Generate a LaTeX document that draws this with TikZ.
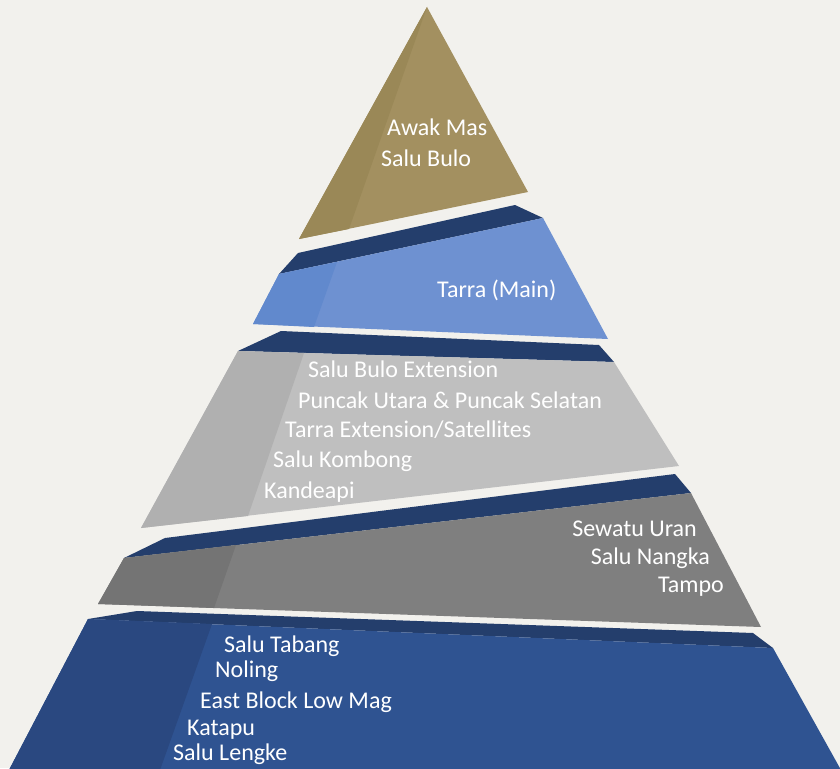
\documentclass[tikz,border=0pt]{standalone}
\usepackage{fontspec}
\setmainfont{Carlito}
\begin{document}
\begin{tikzpicture}[x=1pt,y=-1pt,
  lbl/.style={text=white, inner sep=0pt, font=\fontsize{24}{28}\selectfont},
  lw/.style={lbl, anchor=base west},
  le/.style={lbl, anchor=base east}]
\definecolor{bg}{HTML}{F2F1ED}
\definecolor{gold}{HTML}{A39060}
\definecolor{goldd}{HTML}{9A8857}
\definecolor{navy}{HTML}{243E6C}
\definecolor{lblue}{HTML}{6E91D1}
\definecolor{lblued}{HTML}{6189CD}
\definecolor{lgray}{HTML}{BFBFBF}
\definecolor{lgrayd}{HTML}{B0B0B0}
\definecolor{dgray}{HTML}{7F7F7F}
\definecolor{dgrayd}{HTML}{747474}
\definecolor{dblue}{HTML}{2F5391}
\definecolor{dblued}{HTML}{2A4880}
\fill[bg] (0,0) rectangle (840,768);
\useasboundingbox (0,0) rectangle (840,768);
% layer 1
\fill[gold] (427,7) -- (528,192) -- (299,239) -- cycle;
\fill[goldd] (427,7) -- (349,229) -- (299,239) -- cycle;
% layer 2
\fill[navy] (279,274) -- (298,253) -- (515,205) -- (543,218) -- cycle;
\fill[lblue] (279,274) -- (543,218) -- (608,339) -- (253,324) -- cycle;
\fill[lblued] (279,274) -- (337,262) -- (314,327) -- (253,324) -- cycle;
% layer 3
\fill[navy] (238,351) -- (281,331) -- (599,345) -- (614,362) -- cycle;
\fill[lgray] (238,351) -- (614,362) -- (679,466) -- (141,528) -- cycle;
\fill[lgrayd] (238,351) -- (304,353) -- (248,516) -- (141,528) -- cycle;
% layer 4
\fill[navy] (124,558) -- (165,538) -- (675,474) -- (691,493) -- cycle;
\fill[dgray] (124,558) -- (691,493) -- (761,627) -- (98,604) -- cycle;
\fill[dgrayd] (124,558) -- (236,545) -- (214,608) -- (98,604) -- cycle;
% layer 5
\fill[navy] (88,619) -- (137,611) -- (753,633) -- (773,648) -- cycle;
\fill[dblue] (88,619) -- (773,648) -- (841,770) -- (9,770) -- cycle;
\fill[dblued] (88,619) -- (212,624) -- (160,770) -- (9,770) -- cycle;
% labels
\node[lw] (t1) at (387,135) {Awak Mas};
\node[lw] (t2) at (381,166) {Salu Bulo};
\node[lw] (t3) at (437,297) {Tarra (Main)};
\node[lw] (t4) at (308,377) {Salu Bulo Extension};
\node[lw] (t5) at (298,408) {Puncak Utara \& Puncak Selatan};
\node[lw] (t6) at (285,437) {Tarra Extension/Satellites};
\node[lw] (t7) at (273,467) {Salu Kombong};
\node[lw] (t8) at (264,498) {Kandeapi};
\node[le] (t9) at (697,536) {Sewatu Uran};
\node[le] (t10) at (710,564) {Salu Nangka};
\node[le] (t11) at (724,592) {Tampo};
\node[lw] (t12) at (224,652) {Salu Tabang};
\node[lw] (t13) at (215,677) {Noling};
\node[lw] (t14) at (200,708) {East Block Low Mag};
\node[lw] (t15) at (187,735) {Katapu};
\node[lw] (t16) at (173,760) {Salu Lengke};
\end{tikzpicture}
\end{document}
